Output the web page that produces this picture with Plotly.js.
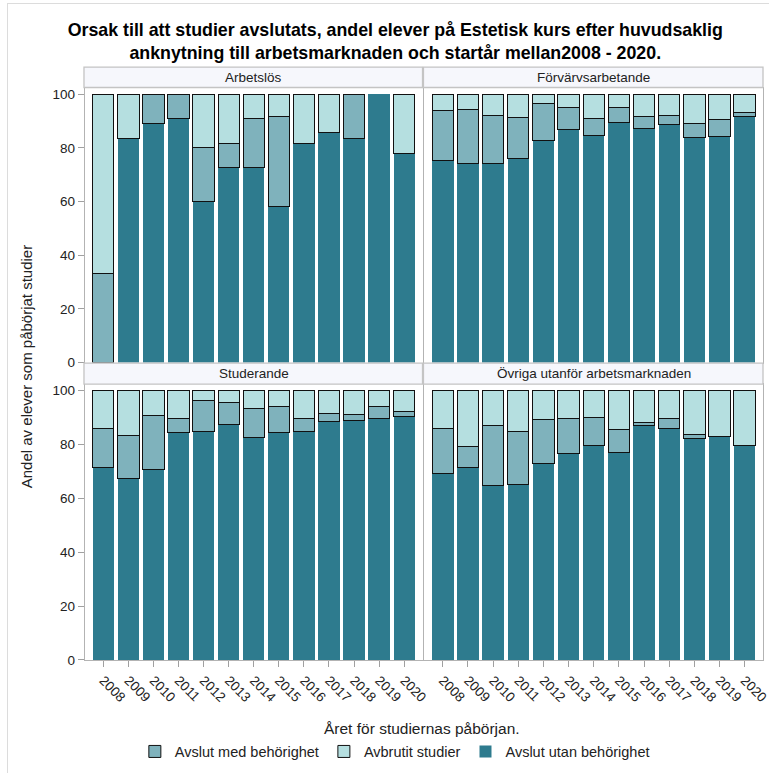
<!DOCTYPE html>
<html>
<head>
<meta charset="utf-8">
<script src="https://cdn.plot.ly/plotly-3.0.1.min.js"></script>
<style>
html,body{margin:0;padding:0;background:#fff;}
#chart{width:769px;height:773px;position:relative;}
#frame{position:absolute;left:7px;top:3px;width:800px;height:800px;border-left:1px solid #dcdcdc;border-top:1px solid #dcdcdc;pointer-events:none;}
</style>
</head>
<body>
<div id="chart"></div>
<div id="frame"></div>
<script>
const years = ["2008","2009","2010","2011","2012","2013","2014","2015","2016","2017","2018","2019","2020"];
const panels = ["Arbetslös","Förvärvsarbetande","Studerande","Övriga utanför arbetsmarknaden"];
const seriesNames = ["Avslut utan behörighet","Avslut med behörighet","Avbrutit studier"];
const seriesColors = ["#2E7B8E","#7FB2BC","#B5DFE0"];

// Arbetslös
const arbUtan = [null, 83.3, 88.9, 90.9, 60.0, 72.7, 72.7, 58.3, 81.8, 85.7, 83.3, 100, 77.8];
const arbMed = [33.3, null, 11.1, 9.1, 20.0, 9.1, 18.2, 33.3, null, null, 16.7, null, null];
const arbAvbr = [66.7, 16.7, null, null, 20.0, 18.2, 9.1, 8.3, 18.2, 14.3, null, null, 22.2];
// Förvärvsarbetande
const forUtan = [75.2, 74.1, 74.3, 75.9, 82.8, 86.7, 84.7, 89.5, 87.3, 88.6, 84.0, 84.1, 91.5];
const forMed = [18.8, 20.3, 17.9, 15.5, 13.6, 8.2, 6.2, 5.4, 4.2, 3.6, 4.9, 6.4, 1.5];
const forAvbr = [6.0, 5.6, 7.8, 8.6, 3.6, 5.1, 9.1, 5.1, 8.5, 7.8, 11.1, 9.5, 7.0];
// Studerande
const stuUtan = [71.4, 67.3, 70.7, 84.3, 85.0, 87.6, 82.5, 84.3, 85.0, 88.5, 89.0, 89.8, 90.3];
const stuMed = [14.7, 16.2, 19.9, 5.5, 11.4, 7.9, 10.7, 10.0, 4.5, 3.2, 2.3, 4.3, 2.0];
const stuAvbr = [13.9, 16.5, 9.4, 10.2, 3.6, 4.5, 6.8, 5.7, 10.5, 8.3, 8.7, 5.9, 7.7];
// Övriga utanför arbetsmarknaden
const ovrUtan = [69.4, 71.3, 64.7, 65.0, 73.0, 76.7, 79.7, 77.2, 87.0, 85.8, 82.2, 82.8, 79.8];
const ovrMed = [16.5, 8.0, 22.5, 19.8, 16.3, 13.1, 10.4, 8.3, 1.2, 3.7, 1.4, null, null];
const ovrAvbr = [14.1, 20.7, 12.8, 15.2, 10.7, 10.2, 9.9, 14.5, 11.8, 10.5, 16.4, 17.2, 20.2];

const panelData = [
  [arbUtan, arbMed, arbAvbr],
  [forUtan, forMed, forAvbr],
  [stuUtan, stuMed, stuAvbr],
  [ovrUtan, ovrMed, ovrAvbr]
];
const legendRanks = [3, 1, 2];

const FONT = '"Liberation Sans", Arial, sans-serif';
const traces = [];
panelData.forEach((series, p) => {
  const sfx = p === 0 ? '' : String(p + 1);
  series.forEach((vals, s) => {
    traces.push({
      type: 'bar',
      x: years,
      y: vals,
      name: seriesNames[s],
      xaxis: 'x' + sfx,
      yaxis: 'y' + sfx,
      marker: {
        color: seriesColors[s],
        line: {color: s === 0 ? seriesColors[s] : '#111', width: s === 0 ? 0 : 1}
      },
      showlegend: p === 0,
      legendgroup: seriesNames[s],
      legendrank: legendRanks[s],
      hoverinfo: 'x+y+name'
    });
  });
});

// geometry (paper coords)
const xDomL = [0, 0.4978], xDomR = [0.5007, 1];
const yDomT = [0.52, 1], yDomB = [0, 0.4817];

function xax(domain, showLabels, anchor) {
  return {
    type: 'category', domain: domain, anchor: anchor,
    range: [-0.73, 12.73],
    showgrid: false, zeroline: false,
    showline: true, mirror: true, linecolor: '#b3b3b3', linewidth: 1.3,
    ticks: showLabels ? 'outside' : '', ticklen: 6, tickcolor: '#a0a0a0',
    showticklabels: showLabels, tickangle: 45,
    tickfont: {family: FONT, size: 13.5, color: '#222'}
  };
}
function yax(domain, showLabels, anchor) {
  return {
    domain: domain, anchor: anchor,
    range: [0, 102.3],
    tickvals: [0, 20, 40, 60, 80, 100],
    showgrid: false, zeroline: false,
    showline: true, mirror: true, linecolor: '#b3b3b3', linewidth: 1.3,
    ticks: showLabels ? 'outside' : '', ticklen: 6, tickcolor: '#a0a0a0',
    showticklabels: showLabels,
    tickfont: {family: FONT, size: 13.5, color: '#222'}
  };
}

const strips = [
  {x: xDomL, y: [1.0009, 1.0365], t: panels[0]},
  {x: xDomR, y: [1.0009, 1.0365], t: panels[1]},
  {x: xDomL, y: [0.4823, 0.5191], t: panels[2]},
  {x: xDomR, y: [0.4823, 0.5191], t: panels[3]}
];
const shapes = strips.map(s => ({
  type: 'rect', xref: 'paper', yref: 'paper',
  x0: s.x[0] - 0.0015, x1: s.x[1], y0: s.y[0], y1: s.y[1],
  fillcolor: '#f6f7fc', line: {color: '#c4c4c4', width: 1.3}, layer: 'above'
}));
const annotations = strips.map(s => ({
  xref: 'paper', yref: 'paper',
  x: (s.x[0] + s.x[1]) / 2, y: (s.y[0] + s.y[1]) / 2,
  text: s.t, showarrow: false, xanchor: 'center', yanchor: 'middle',
  font: {family: FONT, size: 13.5, color: '#222'}
}));
annotations.push({
  xref: 'paper', yref: 'paper', x: 0.497, y: -0.12,
  text: 'Året för studiernas påbörjan.', showarrow: false,
  xanchor: 'center', yanchor: 'middle',
  font: {family: FONT, size: 15.5, color: '#222'}
});
annotations.push({
  xref: 'paper', yref: 'paper', x: -0.086, y: 0.513,
  text: 'Andel av elever som påbörjat studier', showarrow: false, textangle: -90,
  xanchor: 'center', yanchor: 'middle',
  font: {family: FONT, size: 15, color: '#222'}
});

const layout = {
  width: 769, height: 773,
  margin: {l: 85, r: 6, t: 88, b: 110},
  paper_bgcolor: '#fff', plot_bgcolor: '#fff',
  barmode: 'stack', bargap: 0.15,
  font: {family: FONT, color: '#222'},
  title: {
    text: '<b>Orsak till att studier avslutats, andel elever på Estetisk kurs efter huvudsaklig<br>anknytning till arbetsmarknaden och startår mellan2008 - 2020.</b>',
    font: {family: FONT, size: 17.8, color: '#000'},
    xref: 'container', yref: 'container', x: 0.514, y: 0.953,
    xanchor: 'center', yanchor: 'middle'
  },
  xaxis: xax(xDomL, false, 'y'),
  yaxis: yax(yDomT, true, 'x'),
  xaxis2: xax(xDomR, false, 'y2'),
  yaxis2: yax(yDomT, false, 'x2'),
  xaxis3: xax(xDomL, true, 'y3'),
  yaxis3: yax(yDomB, true, 'x3'),
  xaxis4: xax(xDomR, true, 'y4'),
  yaxis4: yax(yDomB, false, 'x4'),
  shapes: shapes,
  annotations: annotations,
  legend: {
    orientation: 'h', x: 0.457, y: -0.16, xanchor: 'center', yanchor: 'middle',
    font: {family: FONT, size: 14.5, color: '#222'},
    traceorder: 'normal', itemwidth: 30
  }
};

Plotly.newPlot('chart', traces, layout, {displayModeBar: false, staticPlot: true});
</script>
</body>
</html>
